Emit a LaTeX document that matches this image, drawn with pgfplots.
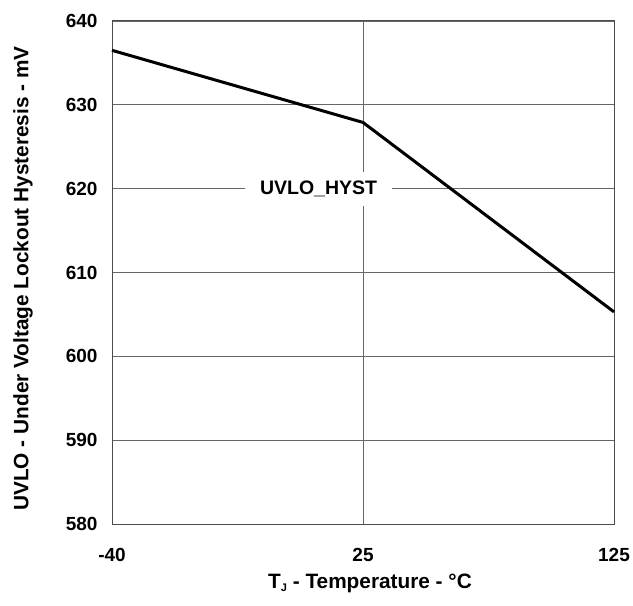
\documentclass[border=0pt]{standalone}
\usepackage{pgfplots}
\pgfplotsset{compat=1.18}
\usepackage{fontspec}
\setmainfont{Liberation Sans}
\begin{document}
\fontsize{19}{22}\selectfont\bfseries
\begin{tikzpicture}
\begin{axis}[
  name=main,
  scale only axis,
  width=502pt, height=503pt,
  xmin=0, xmax=2, ymin=580, ymax=640,
  xtick={0,1,2}, xticklabels={-40,25,125},
  ytick={580,590,600,610,620,630,640},
  grid=major,
  major grid style={draw=black!60, line width=0.9pt},
  axis line style={draw=black!70, line width=1pt},
  major tick length=0pt,
  /pgf/number format/assume math mode=true,
  tick label style={font=\fontsize{19}{22}\selectfont\bfseries},
  yticklabel style={xshift=-8pt},
  xticklabel style={yshift=-18pt},
  label style={font=\fontsize{20.8}{24}\selectfont\bfseries},
  xlabel={T\raisebox{-0.35ex}{\fontsize{11}{12}\selectfont J} - Temperature - °C},
  ylabel={UVLO - Under Voltage Lockout Hysteresis - mV},
  xlabel style={at={(axis description cs:0.5,0)}, anchor=center, yshift=-59pt, xshift=7pt},
  ylabel style={at={(axis description cs:0,0.5)}, anchor=center, yshift=89pt, xshift=-6pt},
  clip=false,
]
\addplot[black, line width=3pt] coordinates {(0,636.5) (1,627.9) (2,605.3)};
\node[fill=white, inner xsep=15pt, inner ysep=9pt, font=\fontsize{19.5}{22}\selectfont\bfseries] at (axis cs:0.823,620) {UVLO\_HYST};
\end{axis}
\pgfresetboundingbox
\path ([xshift=-112pt,yshift=-81pt]main.south west) rectangle ([xshift=19pt,yshift=21pt]main.north east);
\end{tikzpicture}
\end{document}
